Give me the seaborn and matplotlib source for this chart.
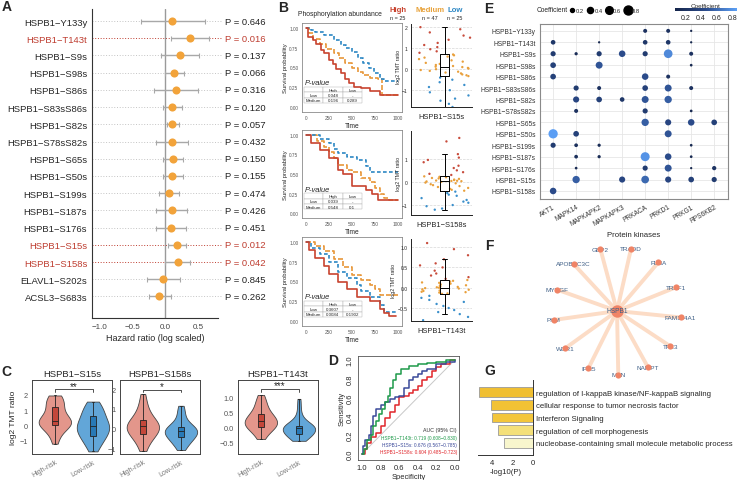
import matplotlib
matplotlib.use("Agg")
import matplotlib.pyplot as plt
import matplotlib.transforms as mtrans
from matplotlib.colors import LinearSegmentedColormap, Normalize
from matplotlib.cm import ScalarMappable
from matplotlib.lines import Line2D
import numpy as np
import pandas as pd
import seaborn as sns

# ---------------- data ----------------
# A: forest plot
forest_sites = ["HSPB1−Y133y", "HSPB1−T143t", "HSPB1−S9s", "HSPB1−S98s", "HSPB1−S86s",
                "HSPB1−S83sS86s", "HSPB1−S82s", "HSPB1−S78sS82s", "HSPB1−S65s", "HSPB1−S50s",
                "HSPB1−S199s", "HSPB1−S187s", "HSPB1−S176s", "HSPB1−S15s", "HSPB1−S158s",
                "ELAVL1−S202s", "ACSL3−S683s"]
forest_hr = [0.11, 0.37, 0.22, 0.14, 0.17, 0.11, 0.11, 0.10, 0.12, 0.11, 0.06, 0.10, 0.09,
             0.18, 0.20, -0.03, -0.09]
forest_lo = [-0.37, 0.08, -0.07, -0.01, -0.17, -0.03, 0.03, -0.14, -0.04, -0.04, -0.10, -0.14,
             -0.14, 0.04, 0.0, -0.28, -0.24]
forest_hi = [0.60, 0.67, 0.51, 0.29, 0.50, 0.25, 0.21, 0.34, 0.27, 0.27, 0.21, 0.33, 0.31,
             0.31, 0.38, 0.23, 0.08]
forest_p = ["0.646", "0.016", "0.137", "0.066", "0.316", "0.120", "0.057", "0.432", "0.150",
            "0.155", "0.474", "0.426", "0.451", "0.012", "0.042", "0.845", "0.262"]
forest_sig = ["HSPB1−T143t", "HSPB1−S15s", "HSPB1−S158s"]

# B: Kaplan-Meier curves (time, survival)
km_s15s_high = [(0, 1.0), (20, 0.88), (70, 0.84), (110, 0.80), (160, 0.72), (200, 0.68),
                (250, 0.60), (290, 0.55), (330, 0.48), (380, 0.43), (420, 0.36), (470, 0.30),
                (520, 0.26), (600, 0.24), (700, 0.20), (800, 0.16), (850, 0.15), (1000, 0.15)]
km_s15s_med = [(0, 1.0), (30, 0.93), (80, 0.86), (150, 0.79), (220, 0.73), (300, 0.68),
               (360, 0.62), (420, 0.56), (500, 0.50), (560, 0.44), (620, 0.40), (700, 0.37),
               (780, 0.35), (830, 0.15), (1000, 0.15)]
km_s15s_low = [(0, 1.0), (50, 0.97), (100, 0.95), (200, 0.91), (300, 0.85), (380, 0.78),
               (440, 0.74), (500, 0.69), (560, 0.62), (620, 0.56), (680, 0.50), (740, 0.43),
               (800, 0.36), (850, 0.33), (1000, 0.33)]
km_s158s_high = [(0, 1.0), (50, 0.90), (150, 0.80), (250, 0.70), (350, 0.55), (400, 0.50),
                 (500, 0.35), (650, 0.30), (720, 0.25), (780, 0.17), (1000, 0.17)]
km_s158s_med = [(0, 1.0), (120, 0.92), (200, 0.85), (250, 0.78), (300, 0.70), (350, 0.62),
                (450, 0.55), (500, 0.52), (600, 0.45), (700, 0.40), (750, 0.32), (800, 0.25),
                (850, 0.20), (900, 0.17), (1000, 0.17)]
km_s158s_low = [(0, 1.0), (150, 0.95), (250, 0.90), (300, 0.82), (350, 0.77), (450, 0.72),
                (550, 0.68), (650, 0.60), (700, 0.53), (1000, 0.53)]
km_t143t_high = [(0, 1.0), (30, 0.90), (100, 0.80), (200, 0.70), (250, 0.60), (350, 0.50),
                 (450, 0.40), (550, 0.30), (700, 0.25), (800, 0.15), (850, 0.10), (900, 0.07),
                 (980, 0.07)]
km_t143t_med = [(0, 1.0), (100, 0.95), (200, 0.88), (300, 0.78), (400, 0.68), (500, 0.58),
                (600, 0.52), (700, 0.45), (750, 0.40), (800, 0.33), (1000, 0.33)]
km_t143t_low = [(0, 1.0), (50, 0.92), (150, 0.85), (250, 0.75), (350, 0.62), (450, 0.55),
                (550, 0.45), (600, 0.38), (700, 0.30), (800, 0.20), (850, 0.12), (1000, 0.12)]
km_p_s15s = [["Low", "0.048", "-"], ["Medium", "0.196", "0.289"]]
km_p_s158s = [["Low", "0.039", "-"], ["Medium", "0.548", "0.1"]]
km_p_t143t = [["Low", "0.3607", "-"], ["Medium", "0.0084", "0.1902"]]

# B: phosphorylation abundance per group
ab_s15s_high = [2.0, 1.9, 1.75, 1.6, 1.5, 1.4, 1.25, 1.15, 1.05, 0.95, 0.85, 0.78]
ab_s15s_med = [0.7, 0.66, 0.6, 0.55, 0.48, 0.42, 0.36, 0.3, 0.25, 0.2, 0.15, 0.12, 0.1, 0.06,
               0.03, 0.0, -0.04, -0.08, -0.12, -0.16, -0.2, -0.25, -0.29, -0.33]
ab_s15s_low = [-0.4, -0.5, -0.62, -0.75, -0.85, -1.0, -1.1, -1.25, -1.4, -1.5, -1.65, -1.8]
ab_s158s_high = [1.9, 1.75, 1.2, 1.05, 0.95, 0.85, 0.7, 0.6, 0.5, 0.42, 0.35, 0.3]
ab_s158s_med = [0.24, 0.22, 0.2, 0.17, 0.15, 0.13, 0.1, 0.08, 0.06, 0.05, 0.04, 0.03, 0.02,
                0.0, -0.03, -0.06, -0.1, -0.14, -0.18, -0.22, -0.26, -0.3, -0.34, -0.38]
ab_s158s_low = [-0.42, -0.48, -0.55, -0.6, -0.7, -0.78, -0.85, -0.9, -1.0, -1.05, -1.15, -1.2]
ab_t143t_high = [1.1, 0.95, 0.8, 0.7, 0.6, 0.55, 0.5, 0.42, 0.35, 0.3, 0.26, 0.22]
ab_t143t_med = [0.19, 0.17, 0.15, 0.13, 0.12, 0.1, 0.08, 0.06, 0.05, 0.03, 0.02, 0.01, 0.0,
                -0.01, -0.02, -0.04, -0.05, -0.07, -0.08, -0.1, -0.11, -0.12, -0.14, -0.15]
ab_t143t_low = [-0.2, -0.25, -0.3, -0.35, -0.4, -0.45, -0.5, -0.55, -0.6, -0.65, -0.72, -0.8]

# C: violins
vio_s15s_high = [-1.2, -0.8, -0.5, -0.3, -0.1, 0.0, 0.05, 0.1, 0.15, 0.2, 0.22, 0.25, 0.28,
                 0.35, 0.45, 0.6, 0.8, 1.0, 1.2, 1.3, 1.45, 1.6, 1.75, 1.85, 1.95]
vio_s15s_low = [-1.7, -1.4, -1.2, -1.0, -0.85, -0.7, -0.67, -0.5, -0.4, -0.3, -0.2, -0.12,
                -0.07, 0.0, 0.1, 0.2, 0.35, 0.5, 0.63, 0.75, 0.9, 1.05, 1.2, 1.4, 1.55]
vio_s158s_high = [-1.15, -0.9, -0.7, -0.5, -0.4, -0.35, -0.3, -0.2, -0.1, -0.05, 0.0, 0.05,
                  0.1, 0.15, 0.2, 0.25, 0.3, 0.4, 0.45, 0.6, 0.75, 0.9, 1.1, 1.4, 1.75]
vio_s158s_low = [-1.1, -0.9, -0.8, -0.7, -0.6, -0.5, -0.45, -0.4, -0.35, -0.3, -0.25, -0.2,
                 -0.15, -0.1, -0.05, 0.0, 0.0, 0.05, 0.05, 0.15, 0.3, 0.5, 0.7, 0.95, 1.15]
vio_t143t_high = [-0.37, -0.25, -0.15, -0.05, 0.0, 0.02, 0.03, 0.08, 0.12, 0.15, 0.18, 0.2,
                  0.23, 0.27, 0.3, 0.35, 0.4, 0.45, 0.47, 0.55, 0.65, 0.75, 0.85, 0.95, 1.1]
vio_t143t_low = [-0.43, -0.38, -0.33, -0.28, -0.24, -0.22, -0.2, -0.17, -0.14, -0.1, -0.07,
                 -0.04, 0.0, 0.02, 0.04, 0.05, 0.06, 0.07, 0.07, 0.12, 0.2, 0.3, 0.45, 0.7, 0.97]

# D: ROC curves (specificity, sensitivity)
roc_t143t = [(1.0, 0.0), (0.98, 0.05), (0.95, 0.15), (0.9, 0.2), (0.88, 0.3), (0.85, 0.35),
             (0.82, 0.42), (0.78, 0.48), (0.75, 0.55), (0.72, 0.62), (0.7, 0.7), (0.67, 0.78),
             (0.63, 0.85), (0.58, 0.9), (0.5, 0.93), (0.4, 0.95), (0.3, 0.97), (0.2, 0.98),
             (0.1, 1.0), (0.0, 1.0)]
roc_s15s = [(1.0, 0.0), (0.99, 0.08), (0.97, 0.15), (0.93, 0.2), (0.9, 0.3), (0.88, 0.4),
            (0.85, 0.48), (0.8, 0.52), (0.75, 0.55), (0.7, 0.58), (0.65, 0.6), (0.6, 0.62),
            (0.55, 0.7), (0.5, 0.78), (0.45, 0.82), (0.4, 0.85), (0.35, 0.88), (0.3, 0.9),
            (0.2, 0.95), (0.1, 0.98), (0.0, 1.0)]
roc_s158s = [(1.0, 0.0), (0.97, 0.05), (0.95, 0.12), (0.9, 0.18), (0.85, 0.22), (0.8, 0.3),
             (0.75, 0.38), (0.7, 0.45), (0.65, 0.52), (0.6, 0.6), (0.55, 0.62), (0.5, 0.65),
             (0.45, 0.68), (0.4, 0.72), (0.35, 0.78), (0.3, 0.82), (0.25, 0.88), (0.2, 0.92),
             (0.15, 0.96), (0.05, 1.0), (0.0, 1.0)]
roc_labels = ["HSPB1−T143t: 0.719 (0.608−0.830)", "HSPB1−S15s: 0.676 (0.567−0.785)",
              "HSPB1−S158s: 0.604 (0.485−0.723)"]

# E: kinase dot plot
kinases = ["AKT1", "MAPK14", "MAPKAPK2", "MAPKAPK3", "PRKACA", "PRKD1", "PRKG1", "RPS6KB2"]
kin_sites = forest_sites[:15]
dot_site = (["Y133y"] * 3 + ["T143t"] * 5 + ["S9s"] * 7 + ["S98s"] * 3 + ["S86s"] * 3
            + ["S83sS86s"] * 5 + ["S82s"] * 5 + ["S78sS82s"] * 3 + ["S65s"] * 4 + ["S50s"] * 3
            + ["S199s"] * 4 + ["S187s"] * 5 + ["S176s"] * 5 + ["S15s"] * 6 + ["S158s"])
dot_kinase = ["PRKACA", "PRKD1", "PRKG1",
              "AKT1", "MAPKAPK2", "PRKACA", "PRKD1", "PRKG1",
              "AKT1", "MAPK14", "MAPKAPK2", "MAPKAPK3", "PRKACA", "PRKD1", "PRKG1",
              "AKT1", "MAPKAPK2", "PRKG1",
              "AKT1", "PRKACA", "PRKD1",
              "MAPK14", "MAPKAPK2", "PRKACA", "PRKD1", "PRKG1",
              "MAPK14", "MAPKAPK2", "MAPKAPK3", "PRKACA", "PRKD1",
              "MAPK14", "PRKACA", "PRKG1",
              "PRKACA", "PRKD1", "PRKG1", "RPS6KB2",
              "AKT1", "MAPK14", "PRKD1",
              "AKT1", "MAPK14", "MAPKAPK2", "PRKG1",
              "MAPK14", "MAPKAPK2", "PRKACA", "PRKD1", "PRKG1",
              "MAPK14", "PRKACA", "PRKD1", "PRKG1", "RPS6KB2",
              "MAPK14", "MAPKAPK3", "PRKACA", "PRKD1", "PRKG1", "RPS6KB2",
              "AKT1"]
dot_coef = [0.2, 0.2, 0.1,
            0.25, 0.1, 0.25, 0.25, 0.1,
            0.3, 0.15, 0.3, 0.45, 0.3, 0.75, 0.2,
            0.35, 0.5, 0.12,
            0.35, 0.45, 0.2,
            0.3, 0.2, 0.35, 0.5, 0.2,
            0.4, 0.35, 0.25, 0.5, 0.55,
            0.2, 0.3, 0.12,
            0.55, 0.4, 0.45, 0.35,
            0.85, 0.35, 0.5,
            0.3, 0.18, 0.15, 0.12,
            0.18, 0.15, 0.8, 0.45, 0.12,
            0.12, 0.3, 0.5, 0.1, 0.22,
            0.55, 0.4, 0.6, 0.4, 0.35, 0.3,
            0.45]

# F: interaction network
net_hub = "HSPB1"
net_nodes = ["GBP2", "TRADD", "FLNA", "TRAF1", "FAM114A1", "TFE3", "NAMPT", "MSN", "IFI35",
             "WDR1", "PKM", "MYDGF", "APOBEC3C"]

# G: enrichment
go_terms = ["regulation of I-kappaB kinase/NF-kappaB signaling",
            "cellular response to tumor necrosis factor", "Interferon Signaling",
            "regulation of cell morphogenesis",
            "nucleobase-containing small molecule metabolic process"]
go_logp = [5.3, 4.1, 4.0, 3.4, 2.85]

# ---------------- style ----------------
sns.set_style("white")
plt.rcParams["font.family"] = ["Liberation Sans", "DejaVu Sans"]
plt.rcParams["axes.unicode_minus"] = True

RED = "#BE3D30"
ORANGE = "#F2A33A"
KM_RED, KM_ORANGE, KM_BLUE = "#C8432F", "#E8973A", "#2C87C4"
GRP_COL = {"High": "#C84C3C", "Medium": "#E9A03C", "Low": "#3A8FCB"}

W, H = 744, 481
fig = plt.figure(figsize=(W / 100, H / 100), dpi=100)


def rect(x0, y0, x1, y1):
    return [x0 / W, 1 - y1 / H, (x1 - x0) / W, (y1 - y0) / H]


def ftext(x, y, s, **kw):
    fig.text(x / W, 1 - y / H, s, **kw)


for lx, ly, lt in [(7, 7, "A"), (283, 8, "B"), (6, 372, "C"), (333, 361, "D"),
                   (489, 9, "E"), (489, 246, "F"), (490, 371, "G")]:
    ftext(lx, ly, lt, fontsize=10, fontweight="bold", ha="center", va="center")

# ---------------- A ----------------
axA = fig.add_axes(rect(92, 10, 218, 319))
fdf = pd.DataFrame({"site": forest_sites, "hr": forest_hr, "lo": forest_lo,
                    "hi": forest_hi, "p": forest_p})
fdf["row"] = np.arange(len(fdf))
fdf["sig"] = fdf["site"].isin(forest_sig)
blend = mtrans.blended_transform_factory(axA.transAxes, axA.transData)
for r in fdf.itertuples():
    col = RED if r.sig else "#C4C4C4"
    axA.plot([0, 1.03], [r.row, r.row], transform=blend, color=col, ls=(0, (1, 1.8)),
             lw=0.7, clip_on=False, zorder=0)
    axA.text(1.055, r.row, f"P = {r.p}", transform=blend, color=RED if r.sig else "#222222",
             fontsize=6.8, va="center")
axA.axvline(0, color="#9A9A9A", lw=1, zorder=1)
axA.errorbar(fdf["hr"], fdf["row"], xerr=[fdf["hr"] - fdf["lo"], fdf["hi"] - fdf["hr"]],
             fmt="none", ecolor="#A8A8A8", elinewidth=1, capsize=1.8, capthick=0.8, zorder=2)
sns.scatterplot(data=fdf, x="hr", y="row", color=ORANGE, s=34, linewidth=0, ax=axA, zorder=3)
axA.set_xlim(-1.11, 0.8)
axA.set_ylim(17.25, -0.7)
axA.set_yticks(fdf["row"])
axA.set_yticklabels(fdf["site"], fontsize=6.8)
for lab, sig in zip(axA.get_yticklabels(), fdf["sig"]):
    if sig:
        lab.set_color(RED)
axA.set_xticks([-1.0, -0.5, 0.0, 0.5])
axA.tick_params(axis="x", labelsize=5.8, labelcolor="#444444", length=2, width=0.6, pad=1.5)
axA.tick_params(axis="y", length=2, width=0.6, pad=1.5)
axA.set_xlabel("Hazard ratio (log scaled)", fontsize=6.5, labelpad=2)
axA.set_ylabel("")
sns.despine(ax=axA)
for sp in ("left", "bottom"):
    axA.spines[sp].set_linewidth(0.8)
    axA.spines[sp].set_color("#333333")

# ---------------- B ----------------
ftext(340, 15, "Phosphorylation abundance", fontsize=4.9, ha="center", va="center")
for gx, gname, gcol in [(398, "High", KM_RED), (430, "Medium", "#E8A23A"), (455, "Low", KM_BLUE)]:
    ftext(gx, 11, gname, fontsize=5.6, fontweight="bold", color=gcol, ha="center", va="center")
for gx, nn in [(398, "n = 25"), (430, "n = 47"), (455, "n = 25")]:
    ftext(gx, 19, nn, fontsize=4, ha="center", va="center")


def draw_km(ax, high, med, low, ptab):
    for pts, col, ls in ((med, KM_ORANGE, (0, (3, 1.2))), (low, KM_BLUE, (0, (2.2, 1.4))),
                         (high, KM_RED, "-")):
        d = pd.DataFrame(pts, columns=["time", "surv"])
        sns.lineplot(data=d, x="time", y="surv", color=col, linestyle=ls,
                     drawstyle="steps-post", linewidth=1.2, estimator=None, ax=ax)
    ax.set_xlim(-45, 1045)
    ax.set_ylim(-0.06, 1.06)
    ax.set_xticks([0, 250, 500, 750, 1000])
    ax.set_yticks([0, 0.25, 0.5, 0.75, 1.0])
    ax.set_yticklabels(["0.00", "0.25", "0.50", "0.75", "1.00"])
    ax.tick_params(labelsize=3.4, labelcolor="#555555", length=1.5, width=0.4, pad=1)
    ax.set_xlabel("Time", fontsize=4.8, labelpad=1)
    ax.set_ylabel("Survival probability", fontsize=4.2, labelpad=1)
    for sp in ax.spines.values():
        sp.set_linewidth(0.6)
        sp.set_color("#8A8A8A")
    ax.text(0.03, 0.31, "P-value", style="italic", fontsize=5.4, transform=ax.transAxes)
    tb = ax.table(cellText=ptab, colLabels=["", "High", "Low"], cellLoc="center",
                  bbox=[0.02, 0.1, 0.58, 0.18])
    tb.auto_set_font_size(False)
    tb.set_fontsize(3.2)
    for cell in tb.get_celld().values():
        cell.set_linewidth(0.3)
        cell.set_edgecolor("#AAAAAA")


def draw_abund(ax, high, med, low, label, ylim, ticks):
    d = pd.DataFrame({"value": high + med + low,
                      "group": ["High"] * len(high) + ["Medium"] * len(med) + ["Low"] * len(low)})
    d["site"] = label
    sns.stripplot(data=d, x="site", y="value", hue="group", palette=GRP_COL, jitter=0.42,
                  size=1.7, linewidth=0, legend=False, ax=ax, zorder=1)
    sns.boxplot(data=d, x="site", y="value", width=0.14, fill=False, color="black",
                linewidth=0.7, showfliers=False, ax=ax, zorder=2)
    ax.set_xlim(-0.55, 0.45)
    ax.set_ylim(*ylim)
    ax.set_yticks(ticks)
    ax.yaxis.grid(True, ls="--", color="#D8D8D8", lw=0.5)
    ax.set_xticks([])
    ax.set_xlabel(label, fontsize=5.4, labelpad=4)
    ax.set_ylabel("log2 TMT ratio", fontsize=3.8, labelpad=1)
    ax.tick_params(axis="y", labelsize=3.6, length=1.5, width=0.4, pad=1)
    sns.despine(ax=ax)
    for sp in ("left", "bottom"):
        ax.spines[sp].set_linewidth(0.7)
        ax.spines[sp].set_color("#222222")


km_boxes = [(302, 24, 402, 113), (302, 131, 402, 219), (302, 238, 402, 327)]
ab_boxes = [(411, 25, 472, 108), (411, 132, 472, 216), (411, 240, 472, 322)]
km_sets = [(km_s15s_high, km_s15s_med, km_s15s_low, km_p_s15s),
           (km_s158s_high, km_s158s_med, km_s158s_low, km_p_s158s),
           (km_t143t_high, km_t143t_med, km_t143t_low, km_p_t143t)]
ab_sets = [(ab_s15s_high, ab_s15s_med, ab_s15s_low, "HSPB1−S15s", (-1.8, 2.15), [-1, 0, 1, 2]),
           (ab_s158s_high, ab_s158s_med, ab_s158s_low, "HSPB1−S158s", (-1.43, 2.2), [-1, 0, 1]),
           (ab_t143t_high, ab_t143t_med, ab_t143t_low, "HSPB1−T143t", (-0.82, 1.2),
            [-0.5, 0.0, 0.5, 1.0])]
for kb, ks, abx, abs_ in zip(km_boxes, km_sets, ab_boxes, ab_sets):
    draw_km(fig.add_axes(rect(*kb)), *ks)
    draw_abund(fig.add_axes(rect(*abx)), *abs_)

# ---------------- C ----------------
VIO_FILL = {"High-risk": "#E3968B", "Low-risk": "#62A6D8"}
BOX_FILL = {"High-risk": "#C4473A", "Low-risk": "#2879B6"}


def draw_violin(ax, high, low, title, ylim, ticks, stars, br, first):
    d = pd.DataFrame({"risk": ["High-risk"] * len(high) + ["Low-risk"] * len(low),
                      "ratio": high + low})
    sns.violinplot(data=d, x="risk", y="ratio", hue="risk", palette=VIO_FILL, inner=None,
                   cut=0, width=0.85, linewidth=0.6, linecolor="#444444", saturation=1,
                   legend=False, ax=ax)
    sns.boxplot(data=d, x="risk", y="ratio", hue="risk", palette=BOX_FILL, width=0.14,
                whis=(0, 100), showfliers=False, linewidth=0.6, linecolor="#222222",
                saturation=1, legend=False, ax=ax)
    ax.set_xlim(-0.6, 1.5)
    ax.set_ylim(*ylim)
    ax.set_yticks(ticks)
    dy = (ylim[1] - ylim[0]) * 0.035
    ax.plot([0, 0, 1, 1], [br - dy, br, br, br - dy], color="#333333", lw=0.6)
    ax.text(0.5, br - dy * 0.6, stars, ha="center", va="bottom", fontsize=7)
    ax.set_title(title, fontsize=6.8, pad=3)
    ax.set_xlabel("")
    ax.set_ylabel("log2 TMT ratio" if first else "", fontsize=6, labelpad=2)
    ax.tick_params(axis="x", labelsize=5, labelcolor="#777777", length=2, width=0.5, pad=1,
                   labelrotation=30)
    ax.tick_params(axis="y", labelsize=5.3, labelcolor="#555555", length=2, width=0.5, pad=1)
    for lab in ax.get_xticklabels():
        lab.set_ha("right")
        lab.set_rotation_mode("anchor")
    for sp in ax.spines.values():
        sp.set_linewidth(0.7)
        sp.set_color("#444444")


vio_boxes = [(32, 381, 112, 455), (120, 381, 200, 455), (238, 381, 318, 455)]
vio_sets = [(vio_s15s_high, vio_s15s_low, "HSPB1−S15s", (-1.87, 2.96), [-1, 0, 1, 2], "**", 2.37),
            (vio_s158s_high, vio_s158s_low, "HSPB1−S158s", (-1.3, 2.46), [-1, 0, 1, 2], "*", 1.97),
            (vio_t143t_high, vio_t143t_low, "HSPB1−T143t", (-0.87, 1.6), [-0.5, 0.0, 0.5, 1.0],
             "***", 1.3)]
for i, (vb, vs) in enumerate(zip(vio_boxes, vio_sets)):
    draw_violin(fig.add_axes(rect(*vb)), *vs, first=(i == 0))

# ---------------- D ----------------
axD = fig.add_axes(rect(358, 357, 459, 461))
axD.plot([1, 0], [0, 1], color="#C8C8C8", lw=0.7)
for pts, col in ((roc_s158s, "#E0262B"), (roc_s15s, "#3B4A9A"), (roc_t143t, "#1E9A4A")):
    d = pd.DataFrame(pts, columns=["spec", "sens"])
    sns.lineplot(data=d, x="spec", y="sens", color=col, drawstyle="steps-pre", linewidth=1.1,
                 estimator=None, ax=axD)
axD.set_xlim(1.043, -0.043)
axD.set_ylim(-0.064, 1.04)
axD.set_xticks([1.0, 0.8, 0.6, 0.4, 0.2, 0.0])
axD.set_yticks([0.0, 0.2, 0.4, 0.6, 0.8, 1.0])
axD.tick_params(labelsize=5.4, length=2, width=0.5, pad=1)
for lab in axD.get_yticklabels():
    lab.set_rotation(90)
    lab.set_va("center")
axD.set_xlabel("Specificity", fontsize=5.4, labelpad=1)
axD.set_ylabel("Sensitivity", fontsize=5.4, labelpad=1)
for sp in axD.spines.values():
    sp.set_linewidth(0.6)
    sp.set_color("#555555")
axD.text(0.98, 0.28, "AUC (95% CI)", transform=axD.transAxes, ha="right", fontsize=3.8,
         color="#333333")
for ty, lab, col in zip([0.2, 0.135, 0.07], roc_labels, ["#1E9A4A", "#3B4A9A", "#E0262B"]):
    axD.text(0.98, ty, lab, transform=axD.transAxes, ha="right", fontsize=3.4, color=col)

# ---------------- E ----------------
cmap = LinearSegmentedColormap.from_list("coef", ["#15254A", "#2C4C8C", "#5CA0F6"])
cnorm = Normalize(0.07, 0.86)
size_rng = (2.7, 47.5)
size_dom = (0.1, 0.9)
axE = fig.add_axes(rect(540, 25, 728, 200))
edf = pd.DataFrame({"site": ["HSPB1−" + s for s in dot_site], "kinase": dot_kinase,
                    "coef": dot_coef})
edf["col"] = edf["kinase"].map({k: i for i, k in enumerate(kinases)})
edf["row"] = edf["site"].map({s: i for i, s in enumerate(kin_sites)})
sns.scatterplot(data=edf, x="col", y="row", hue="coef", size="coef", palette=cmap,
                hue_norm=cnorm, sizes=size_rng, size_norm=size_dom, linewidth=0,
                legend=False, ax=axE, zorder=3)
axE.set_xlim(-0.57, 7.6)
axE.set_ylim(14.7, -0.6)
axE.set_xticks(range(len(kinases)))
axE.set_xticklabels(kinases, rotation=30, ha="right", rotation_mode="anchor")
axE.set_yticks(range(len(kin_sites)))
axE.set_yticklabels(kin_sites)
axE.tick_params(labelsize=4.8, length=1.5, width=0.5, pad=1.5, colors="#333333")
axE.grid(True, color="#E6E6E6", lw=0.6)
axE.set_axisbelow(True)
axE.set_xlabel("Protein kinases", fontsize=5.6, labelpad=3)
axE.set_ylabel("")
for sp in axE.spines.values():
    sp.set_linewidth(0.8)
    sp.set_color("#8A8A8A")

# size legend
ftext(552, 11, "Coefficient", fontsize=4.8, ha="center", va="center")
handles = []
for v in [0.2, 0.4, 0.6, 0.8]:
    s = size_rng[0] + (v - size_dom[0]) / (size_dom[1] - size_dom[0]) * (size_rng[1] - size_rng[0])
    handles.append(Line2D([], [], ls="none", marker="o", color="black", markersize=np.sqrt(s)))
fig.legend(handles, ["0.2", "0.4", "0.6", "0.8"], ncol=4, frameon=False, fontsize=4.2,
           loc="center left", bbox_to_anchor=(566 / W, 1 - 11 / H), handletextpad=0.2,
           columnspacing=0.6, handlelength=1.0, borderpad=0)

# colour bar
cax = fig.add_axes(rect(675, 9, 737, 12))
cb = fig.colorbar(ScalarMappable(norm=cnorm, cmap=cmap), cax=cax, orientation="horizontal")
cb.set_ticks([0.2, 0.4, 0.6, 0.8])
cb.outline.set_visible(False)
cax.tick_params(labelsize=5, length=1.5, width=0.5, pad=1, color="white")
cax.set_title("Coefficient", fontsize=4.6, pad=0.8)

# ---------------- F ----------------
axF = fig.add_axes(rect(530, 230, 705, 392))
axF.set_xlim(530, 705)
axF.set_ylim(392, 230)
axF.axis("off")
cx, cy, rad = 617, 312, 64
ang = np.deg2rad(105 - np.arange(len(net_nodes)) * 360 / len(net_nodes))
ndf = pd.DataFrame({"node": net_nodes, "x": cx + rad * np.cos(ang), "y": cy - rad * np.sin(ang)})
for r in ndf.itertuples():
    axF.plot([cx, r.x], [cy, r.y], color="#FCDCC6", lw=2.8, solid_capstyle="butt", zorder=1)
    axF.text(r.x, r.y, r.node, fontsize=4.6, color="#3F5F86", ha="center", va="center", zorder=2)
sns.scatterplot(data=ndf, x="x", y="y", color="#F08466", s=20, linewidth=0, ax=axF, zorder=3)
hub = pd.DataFrame({"x": [cx], "y": [cy]})
sns.scatterplot(data=hub, x="x", y="y", color="#F08466", s=80, linewidth=0, ax=axF, zorder=3)
axF.text(cx, cy, net_hub, fontsize=4.8, color="#3F5F86", ha="center", va="center", zorder=4)
axF.set_xlabel("")
axF.set_ylabel("")

# ---------------- G ----------------
axG = fig.add_axes(rect(478, 381, 533, 456))
gdf = pd.DataFrame({"term": go_terms, "logp": go_logp})
go_pal = dict(zip(go_terms, ["#F0BF32", "#F2C235", "#F3C63C", "#F4E07A", "#F8F6CD"]))
sns.barplot(data=gdf, x="logp", y="term", hue="term", palette=go_pal, orient="h", width=0.78,
            edgecolor="#9A9A9A", linewidth=0.6, saturation=1, legend=False, ax=axG)
axG.set_xlim(5.4, 0)
axG.set_ylim(4.95, -0.95)
axG.set_xticks([4, 2, 0])
axG.yaxis.tick_right()
axG.tick_params(axis="y", length=0, pad=2, labelsize=5.6)
axG.tick_params(axis="x", labelsize=5.6, length=2, width=0.5, pad=1)
axG.set_ylabel("")
axG.set_xlabel("-log10(P)", fontsize=5.6, labelpad=1)
for sp in ("left", "top"):
    axG.spines[sp].set_visible(False)
for sp in ("right", "bottom"):
    axG.spines[sp].set_linewidth(0.7)
    axG.spines[sp].set_color("#333333")

fig.savefig("out.png", dpi=100)
